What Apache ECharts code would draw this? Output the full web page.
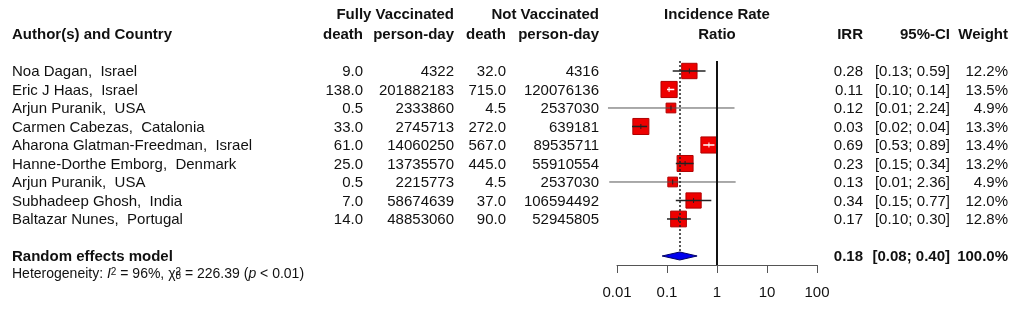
<!DOCTYPE html>
<html>
<head>
<meta charset="utf-8">
<script src="https://cdn.jsdelivr.net/npm/echarts@6/dist/echarts.min.js"></script>
<style>
  html, body { margin: 0; padding: 0; background: #fff; }
  #chart { width: 1021px; height: 309px; }
</style>
</head>
<body>
<div id="chart"></div>
<script>
// study data
var studies = ['Noa Dagan,  Israel', 'Eric J Haas,  Israel', 'Arjun Puranik,  USA',
  'Carmen Cabezas,  Catalonia', 'Aharona Glatman-Freedman,  Israel', 'Hanne-Dorthe Emborg,  Denmark',
  'Arjun Puranik,  USA', 'Subhadeep Ghosh,  India', 'Baltazar Nunes,  Portugal'];
var vacDeath = [9.0, 138.0, 0.5, 33.0, 61.0, 25.0, 0.5, 7.0, 14.0];
var vacDays = [4322, 201882183, 2333860, 2745713, 14060250, 13735570, 2215773, 58674639, 48853060];
var unvacDeath = [32.0, 715.0, 4.5, 272.0, 567.0, 445.0, 4.5, 37.0, 90.0];
var unvacDays = [4316, 120076136, 2537030, 639181, 89535711, 55910554, 2537030, 106594492, 52945805];
var irr = [0.28, 0.11, 0.12, 0.03, 0.69, 0.23, 0.13, 0.34, 0.17];
var ciLow = [0.13, 0.10, 0.0066, 0.02, 0.53, 0.15, 0.0070, 0.15, 0.10];
var ciHigh = [0.59, 0.14, 2.24, 0.04, 0.89, 0.34, 2.36, 0.77, 0.30];
var weight = [12.2, 13.5, 4.9, 13.3, 13.4, 13.2, 4.9, 12.0, 12.8];
var pooled = [0.18, 0.08, 0.40]; // estimate, lower, upper
var xTicks = [0.01, 0.1, 1, 10, 100];

var FONT = 'Liberation Sans, Arial, sans-serif';
var FS = 15;
var ROW_POOLED = 10;

var chart = echarts.init(document.getElementById('chart'));

var studyData = irr.map(function (v, i) {
  return [v, i, ciLow[i], ciHigh[i], weight[i]];
});

chart.setOption({
  animation: false,
  grid: { left: 617, width: 200, top: 61, height: 204 },
  xAxis: {
    type: 'log', logBase: 10, min: 0.01, max: 100,
    axisLine: { onZero: false, lineStyle: { color: '#555', width: 1 } },
    axisTick: { length: 8, lineStyle: { color: '#555' } },
    axisLabel: {
      margin: 20, fontSize: FS, color: '#111', fontFamily: FONT,
      showMinLabel: true, showMaxLabel: true,
      formatter: function (v) {
        var hit = xTicks.filter(function (t) { return Math.abs(Math.log10(t) - Math.log10(v)) < 1e-6; });
        return hit.length ? String(hit[0]) : '';
      }
    },
    splitLine: { show: false }
  },
  yAxis: { type: 'value', inverse: true, min: -0.54, max: 10.487, show: false },
  series: [
    {
      type: 'line', data: [], silent: true, z: 1,
      markLine: {
        silent: true, symbol: 'none', label: { show: false },
        data: [
          [{ coord: [1, -0.54], lineStyle: { color: '#111', width: 2, type: 'solid' } }, { coord: [1, 10.487] }],
          [{ coord: [pooled[0], -0.54], lineStyle: { color: '#222', width: 1.5, type: [2, 2] } }, { coord: [pooled[0], 9.78] }]
        ]
      }
    },
    {
      type: 'custom', z: 3,
      data: studyData,
      renderItem: function (params, api) {
        var c = api.coord([api.value(0), api.value(1)]);
        var lo = api.coord([api.value(2), api.value(1)]);
        var hi = api.coord([api.value(3), api.value(1)]);
        var side = 4.4 * Math.sqrt(api.value(4));
        var inside = lo[0] >= c[0] - side / 2 && hi[0] <= c[0] + side / 2;
        var wide = api.value(3) > 1.5;
        var lineColor = inside ? '#fff' : (wide ? '#555' : '#222');
        return {
          type: 'group',
          children: [
            {
              type: 'rect',
              shape: { x: c[0] - side / 2, y: c[1] - side / 2, width: side, height: side },
              style: { fill: '#ee0000', stroke: '#b00000', lineWidth: 1 }
            },
            {
              type: 'line',
              shape: { x1: lo[0], y1: c[1], x2: hi[0], y2: c[1] },
              style: { stroke: lineColor, lineWidth: wide ? 1 : 1.5 }
            },
            {
              type: 'line',
              shape: { x1: c[0], y1: c[1] - 2.5, x2: c[0], y2: c[1] + 2.5 },
              style: { stroke: inside ? '#fff' : '#222', lineWidth: 1 }
            }
          ]
        };
      }
    },
    {
      type: 'custom', z: 3,
      data: [[pooled[0], ROW_POOLED, pooled[1], pooled[2]]],
      renderItem: function (params, api) {
        var c = api.coord([api.value(0), api.value(1)]);
        var lo = api.coord([api.value(2), api.value(1)]);
        var hi = api.coord([api.value(3), api.value(1)]);
        var h = 4;
        return {
          type: 'polygon',
          shape: { points: [[lo[0], c[1]], [c[0], c[1] - h], [hi[0], c[1]], [c[0], c[1] + h]] },
          style: { fill: '#0000ee', stroke: '#000066', lineWidth: 1 }
        };
      }
    }
  ]
});

// table text placed on the rows of the plot
function rowY(i) { return chart.convertToPixel({ yAxisIndex: 0 }, i); }
function txt(x, y, s, align, bold, size) {
  return {
    type: 'text', x: x, y: y, silent: true,
    style: {
      text: s, fill: '#111', font: (bold ? 'bold ' : '') + (size || FS) + 'px ' + FONT,
      textAlign: align || 'right', textVerticalAlign: 'middle'
    }
  };
}

var g = [];
var H1 = 15, H2 = 35;
g.push(txt(12, H2, 'Author(s) and Country', 'left', true));
g.push(txt(454, H1, 'Fully Vaccinated', 'right', true));
g.push(txt(599, H1, 'Not Vaccinated', 'right', true));
g.push(txt(363, H2, 'death', 'right', true));
g.push(txt(454, H2, 'person-day', 'right', true));
g.push(txt(506, H2, 'death', 'right', true));
g.push(txt(599, H2, 'person-day', 'right', true));
g.push(txt(717, H1, 'Incidence Rate', 'center', true));
g.push(txt(717, H2, 'Ratio', 'center', true));
g.push(txt(863, H2, 'IRR', 'right', true));
g.push(txt(950, H2, '95%-CI', 'right', true));
g.push(txt(1008, H2, 'Weight', 'right', true));

studies.forEach(function (name, i) {
  var y = rowY(i) + 1;
  g.push(txt(12, y, name, 'left'));
  g.push(txt(363, y, vacDeath[i].toFixed(1)));
  g.push(txt(454, y, String(vacDays[i])));
  g.push(txt(506, y, unvacDeath[i].toFixed(1)));
  g.push(txt(599, y, String(unvacDays[i])));
  g.push(txt(863, y, irr[i].toFixed(2)));
  g.push(txt(950, y, '[' + ciLow[i].toFixed(2) + '; ' + ciHigh[i].toFixed(2) + ']'));
  g.push(txt(1008, y, weight[i].toFixed(1) + '%'));
});

var yp = rowY(ROW_POOLED) + 1;
g.push(txt(12, yp, 'Random effects model', 'left', true));
g.push(txt(863, yp, pooled[0].toFixed(2), 'right', true));
g.push(txt(950, yp, '[' + pooled[1].toFixed(2) + '; ' + pooled[2].toFixed(2) + ']', 'right', true));
g.push(txt(1008, yp, '100.0%', 'right', true));

g.push({
  type: 'text', x: 12, y: yp + 17, silent: true,
  style: {
    text: 'Heterogeneity: {it|I}{sup|2} = 96%, {n|χ}{sup2|2}{sub|8} = 226.39 ({it|p} < 0.01)',
    fill: '#111', font: '14px ' + FONT, textVerticalAlign: 'middle',
    rich: {
      it: { fontStyle: 'italic', fontSize: 14, fontFamily: FONT, fill: '#111' },
      n: { fontSize: 14, fontFamily: FONT, fill: '#111' },
      sup: { fontSize: 10, fontFamily: FONT, fill: '#111', verticalAlign: 'top' },
      sup2: { fontSize: 10, fontFamily: FONT, fill: '#111', verticalAlign: 'top', width: 0 },
      sub: { fontSize: 10, fontFamily: FONT, fill: '#111', verticalAlign: 'bottom' }
    }
  }
});

chart.setOption({ graphic: { elements: g } });
</script>
</body>
</html>
